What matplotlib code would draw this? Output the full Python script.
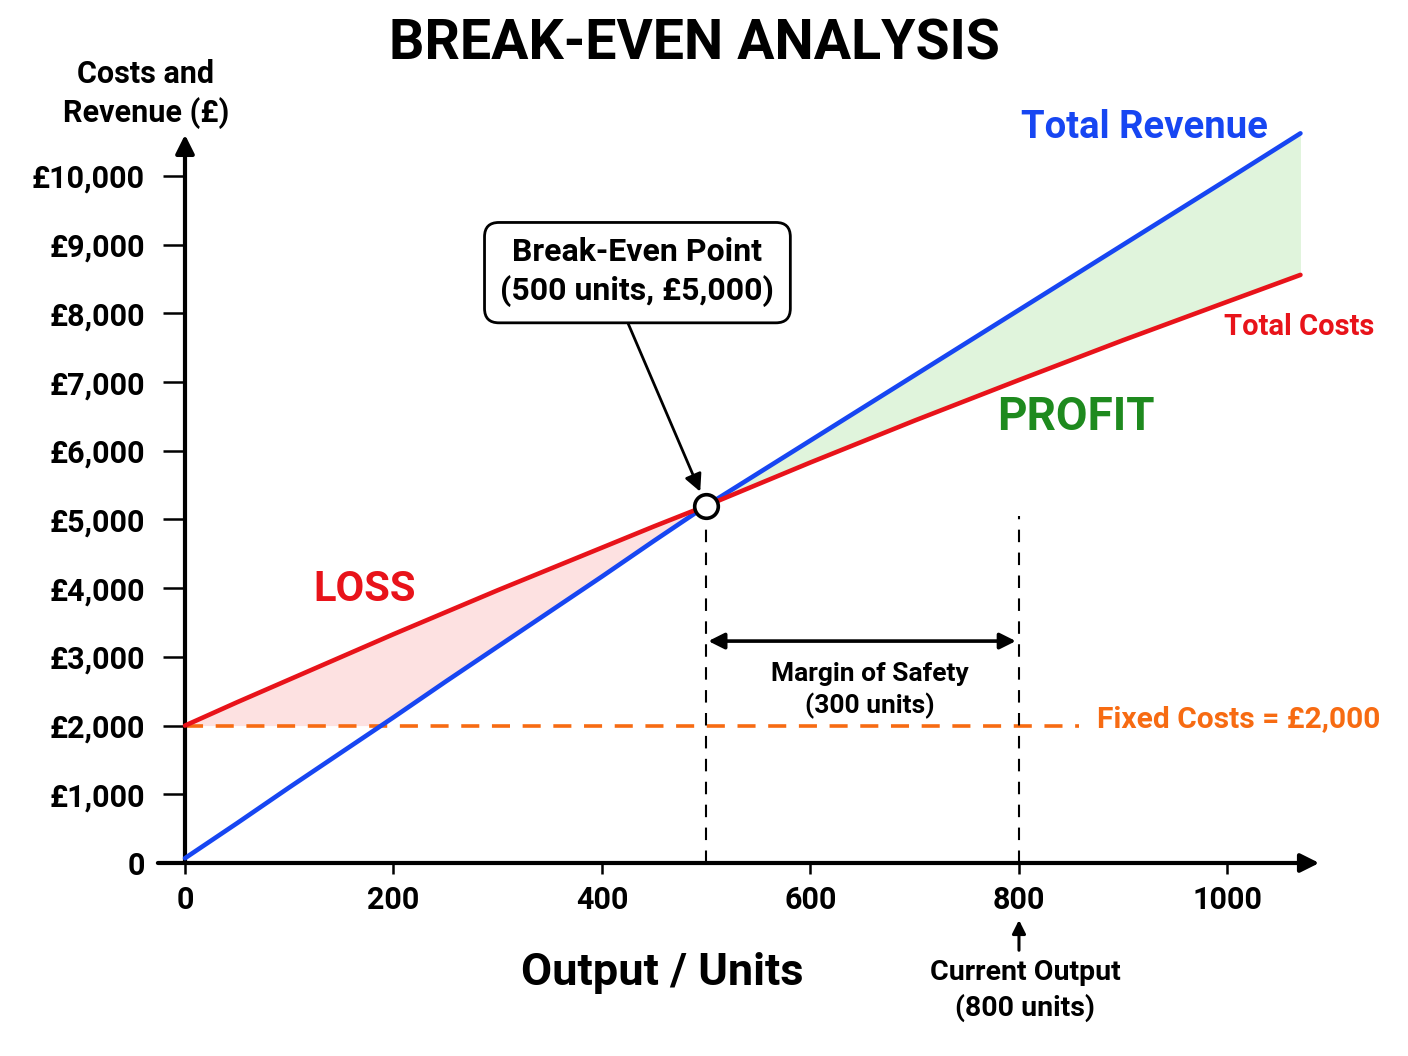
import matplotlib

matplotlib.use("Agg")

import matplotlib.pyplot as plt
import numpy as np
from matplotlib import font_manager

# output level (units) and the two curves
units = [0, 50, 100, 150, 200, 250, 300, 350, 400, 450, 500, 600, 700, 800, 900, 1000, 1070]
total_revenue = [70, 580, 1100, 1610, 2120, 2640, 3150, 3660, 4170, 4690, 5200,
                 6150, 7100, 8050, 9000, 9950, 10620]
total_costs = [2000, 2340, 2670, 3000, 3330, 3650, 3970, 4280, 4590, 4900, 5200,
               5830, 6440, 7030, 7610, 8170, 8560]

fixed_costs = 2000
fixed_line_end = 858
break_even_units = 500
break_even_value = 5200
current_output = 800
current_line_top = 5050
margin_arrow_y = 3230

x_ticks = [0, 200, 400, 600, 800, 1000]
y_ticks = [0, 1000, 2000, 3000, 4000, 5000, 6000, 7000, 8000, 9000, 10000]
y_tick_labels = ["0"] + [f"£{v:,}" for v in y_ticks[1:]]

BLUE = "#1746f2"
RED = "#e8131a"
ORANGE = "#f76b12"
GREEN = "#1e8a1e"
PINK_FILL = "#fde1e1"
GREEN_FILL = "#e0f4dc"


def has_bold(name):
    for entry in font_manager.fontManager.ttflist:
        if entry.name != name:
            continue
        weight = entry.weight
        if isinstance(weight, str):
            weight = font_manager.weight_dict.get(weight, 400)
        if weight >= 600:
            return True
    return False


FAMILY = next((n for n in ["Roboto", "Inter", "Lato", "Open Sans", "Noto Sans",
                           "Liberation Sans"] if has_bold(n)), "DejaVu Sans")

plt.rcParams["font.family"] = [FAMILY, "DejaVu Sans"]
plt.rcParams["font.weight"] = "bold"

fig = plt.figure(figsize=(14.08, 10.56), dpi=100)
ax = fig.add_axes([0.11214, 0.18277, 0.82628, 0.69290])
ax.set_xlim(-26, 1090)
ax.set_ylim(0, 10650)
for side in ax.spines.values():
    side.set_visible(False)
ax.spines["left"].set_position(("data", 0))
ax.spines["bottom"].set_position(("data", 0))

ax.set_xticks(x_ticks)
ax.set_yticks(y_ticks)
ax.set_yticklabels(y_tick_labels)
ax.tick_params(axis="y", direction="out", length=16, width=1.8, pad=13, labelsize=22)
ax.tick_params(axis="x", direction="out", length=8, width=1.8, pad=8, labelsize=22)
for lab in ax.get_xticklabels() + ax.get_yticklabels():
    lab.set_fontweight("bold")

# axes with arrow heads
ax.annotate("", xy=(1088, 0), xytext=(-26, 0), annotation_clip=False,
            arrowprops=dict(arrowstyle="-|>", lw=3, color="black", mutation_scale=28,
                            shrinkA=0, shrinkB=0))
ax.annotate("", xy=(0, 10600), xytext=(0, 0), annotation_clip=False,
            arrowprops=dict(arrowstyle="-|>", lw=3, color="black", mutation_scale=28,
                            shrinkA=0, shrinkB=0))

# shaded loss / profit areas
grid = np.linspace(0, units[-1], 1200)
rev_grid = np.interp(grid, units, total_revenue)
cost_grid = np.interp(grid, units, total_costs)
loss = grid <= break_even_units
ax.fill_between(grid[loss], np.maximum(rev_grid[loss], fixed_costs), cost_grid[loss],
                color=PINK_FILL, lw=0, zorder=1)
profit = grid >= break_even_units
ax.fill_between(grid[profit], cost_grid[profit], rev_grid[profit],
                color=GREEN_FILL, lw=0, zorder=1)

# fixed costs and guide lines
ax.plot([0, fixed_line_end], [fixed_costs, fixed_costs], color=ORANGE, lw=2.6,
        dashes=(5, 3.5), zorder=2)
ax.plot([break_even_units, break_even_units], [0, break_even_value - 250],
        color="black", lw=1.5, dashes=(6, 5), zorder=2)
ax.plot([current_output, current_output], [0, current_line_top],
        color="black", lw=1.5, dashes=(6, 5), zorder=2)

ax.plot(units, total_revenue, color=BLUE, lw=3.3, solid_capstyle="round", zorder=3,
        clip_on=False)
ax.plot(units, total_costs, color=RED, lw=3.3, solid_capstyle="round", zorder=3,
        clip_on=False)

ax.plot(break_even_units, break_even_value, "o", ms=17, mfc="white", mec="black",
        mew=2.6, zorder=6)

ax.annotate("Break-Even Point\n(500 units, £5,000)",
            xy=(break_even_units, break_even_value), xytext=(434, 8600),
            ha="center", va="center", fontsize=23, fontweight="bold", linespacing=1.3,
            bbox=dict(boxstyle="round,pad=0.5,rounding_size=0.45", fc="white",
                      ec="black", lw=2),
            arrowprops=dict(arrowstyle="-|>", lw=2, color="black", mutation_scale=26,
                            shrinkA=0, shrinkB=11, relpos=(0.44, 0)),
            zorder=7)

ax.annotate("", xy=(break_even_units + 2, margin_arrow_y),
            xytext=(current_output - 3, margin_arrow_y),
            arrowprops=dict(arrowstyle="<|-|>", lw=2.6, color="black", mutation_scale=24,
                            shrinkA=0, shrinkB=0))
ax.text(657, 2510, "Margin of Safety\n(300 units)", ha="center", va="center",
        fontsize=19, fontweight="bold", linespacing=1.35)

ax.annotate("", xy=(current_output, -830), xytext=(current_output, -1270),
            annotation_clip=False,
            arrowprops=dict(arrowstyle="-|>", lw=2.2, color="black", mutation_scale=20,
                            shrinkA=0, shrinkB=0))
ax.text(806, -1850, "Current Output\n(800 units)", ha="center", va="center",
        fontsize=20.5, fontweight="bold", linespacing=1.35)

# curve and region labels
ax.text(920, 10700, "Total Revenue", ha="center", va="center", color=BLUE, fontsize=27.5,
        fontweight="bold")
ax.text(1069, 7800, "Total Costs", ha="center", va="center", color=RED, fontsize=21,
        fontweight="bold")
ax.text(855, 6490, "PROFIT", ha="center", va="center", color=GREEN, fontsize=33,
        fontweight="bold")
ax.text(172, 3975, "LOSS", ha="center", va="center", color=RED, fontsize=30,
        fontweight="bold")
ax.text(875, 2100, "Fixed Costs = £2,000", ha="left", va="center", color=ORANGE,
        fontsize=21.5, fontweight="bold")

fig.text(694 / 1408, 1 - 45 / 1056, "BREAK-EVEN ANALYSIS", ha="center", va="center",
         fontsize=40, fontweight="bold")
fig.text(146 / 1408, 1 - 94 / 1056, "Costs and\nRevenue (£)", ha="center", va="center",
         fontsize=22, fontweight="bold", linespacing=1.3)
fig.text(662 / 1408, 1 - 973 / 1056, "Output / Units", ha="center", va="center",
         fontsize=32.5, fontweight="bold")

fig.savefig("out.png", dpi=100, facecolor="white")
